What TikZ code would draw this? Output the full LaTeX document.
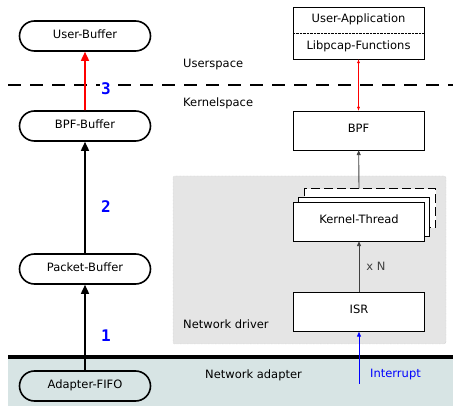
\documentclass[tikz,border=0pt]{standalone}
\usepackage{fontspec}
\setmainfont{DejaVu Sans}
\newfontfamily\stepfont{DejaVu Sans Mono}
\usetikzlibrary{arrows.meta,%
                shapes.misc}
\definecolor{adaptercol}{RGB}{215,228,228}
\definecolor{drivercol}{RGB}{229,229,229}
\tikzstyle{buffer}=[rounded rectangle, draw, line width=1.6pt, minimum width=131pt, minimum height=30pt, inner sep=0pt, font=\fontsize{11.5}{13}\selectfont]
\tikzstyle{block}=[rectangle, draw, thin, fill=white, minimum width=131pt, minimum height=39pt, inner sep=0pt, font=\fontsize{11.5}{13}\selectfont]
\tikzstyle{caption}=[anchor=west, inner sep=0pt, font=\fontsize{11.5}{13}\selectfont]
\tikzstyle{stepno}=[fill=white, inner sep=1pt, text=blue, font=\stepfont\bfseries\fontsize{16}{18}\selectfont]
\tikzstyle{bigarrow}=[line width=1.6pt, -{Triangle[length=9pt,width=8pt]}]
\tikzstyle{smallarrow}=[line width=0.9pt, black!75, -{Triangle[length=5pt,width=4pt]}]

\begin{document}
\begin{tikzpicture}[x=1pt,y=-1pt]
  \useasboundingbox (0,0) rectangle (453,406);
  \fill[adaptercol] (8,358) rectangle (453,406);
  \draw[line width=4.5pt] (8,357) -- (453,357);
  \draw[black!25, densely dotted, fill=drivercol, rounded corners=2pt] (173,176) rectangle (446,344);
  \draw[line width=1.3pt, dash pattern=on 13pt off 9pt] (8,85) -- (453,85);

  \node[buffer] (userbuf) at (85,36) {\raisebox{3pt}{User-Buffer}};
  \node[buffer] (bpfbuf) at (85,126) {\raisebox{3pt}{BPF-Buffer}};
  \node[buffer] (packetbuf) at (85,269) {\raisebox{3pt}{Packet-Buffer}};
  \node[buffer, fill=adaptercol] (fifo) at (85,386) {\raisebox{3pt}{Adapter-FIFO}};

  \node[block, minimum height=52pt] (userapp) at (358.5,33) {};
  \node[caption, anchor=center] (appname) at (358.5,19) {User-Application};
  \node[caption, anchor=center] (libname) at (358.5,46) {Libpcap-Functions};
  \draw[densely dotted] (userapp.west |- 0,33) -- (userapp.east |- 0,33);

  \node[block] (bpf) at (358.5,130.5) {\raisebox{5pt}{BPF}};
  \node[block, line width=1pt, dash pattern=on 9pt off 4pt] (kthreadc) at (370,208.5) {};
  \node[block] (kthreadb) at (364,217) {};
  \node[block] (kthread) at (359,221.5) {\raisebox{5pt}{Kernel-Thread}};
  \node[block] (isr) at (359,312) {\raisebox{5pt}{ISR}};

  \node[caption] (userspace) at (183,65) {Userspace};
  \node[caption] (kernelspace) at (183,103) {Kernelspace};
  \node[caption] (driver) at (183,324) {Network driver};
  \node[caption] (adapter) at (205,375) {Network adapter};
  \node[caption, text=blue] (interrupt) at (370,375) {Interrupt};

  \draw[bigarrow, red] (bpfbuf) -- (userbuf) node[stepno, pos=0.37, xshift=21pt] {3};
  \draw[bigarrow] (packetbuf) -- (bpfbuf) node[stepno, pos=0.42, xshift=21pt] {2};
  \draw[bigarrow] (fifo) -- (packetbuf) node[stepno, pos=0.4, xshift=21pt] {1};

  \draw[red, thin, {Latex[length=4pt,width=3pt]}-{Latex[length=4pt,width=3pt]}] (userapp) -- (bpf);
  \draw[smallarrow] (kthread |- kthreadc.north) -- (bpf);
  \draw[smallarrow] (isr) -- (kthread) node[caption, midway, xshift=7pt] {x N};
  \coordinate (irq) at (359,384);
  \draw[blue, line width=0.9pt, -{Triangle[length=5pt,width=4pt]}] (irq) -- (isr);
\end{tikzpicture}
\end{document}
